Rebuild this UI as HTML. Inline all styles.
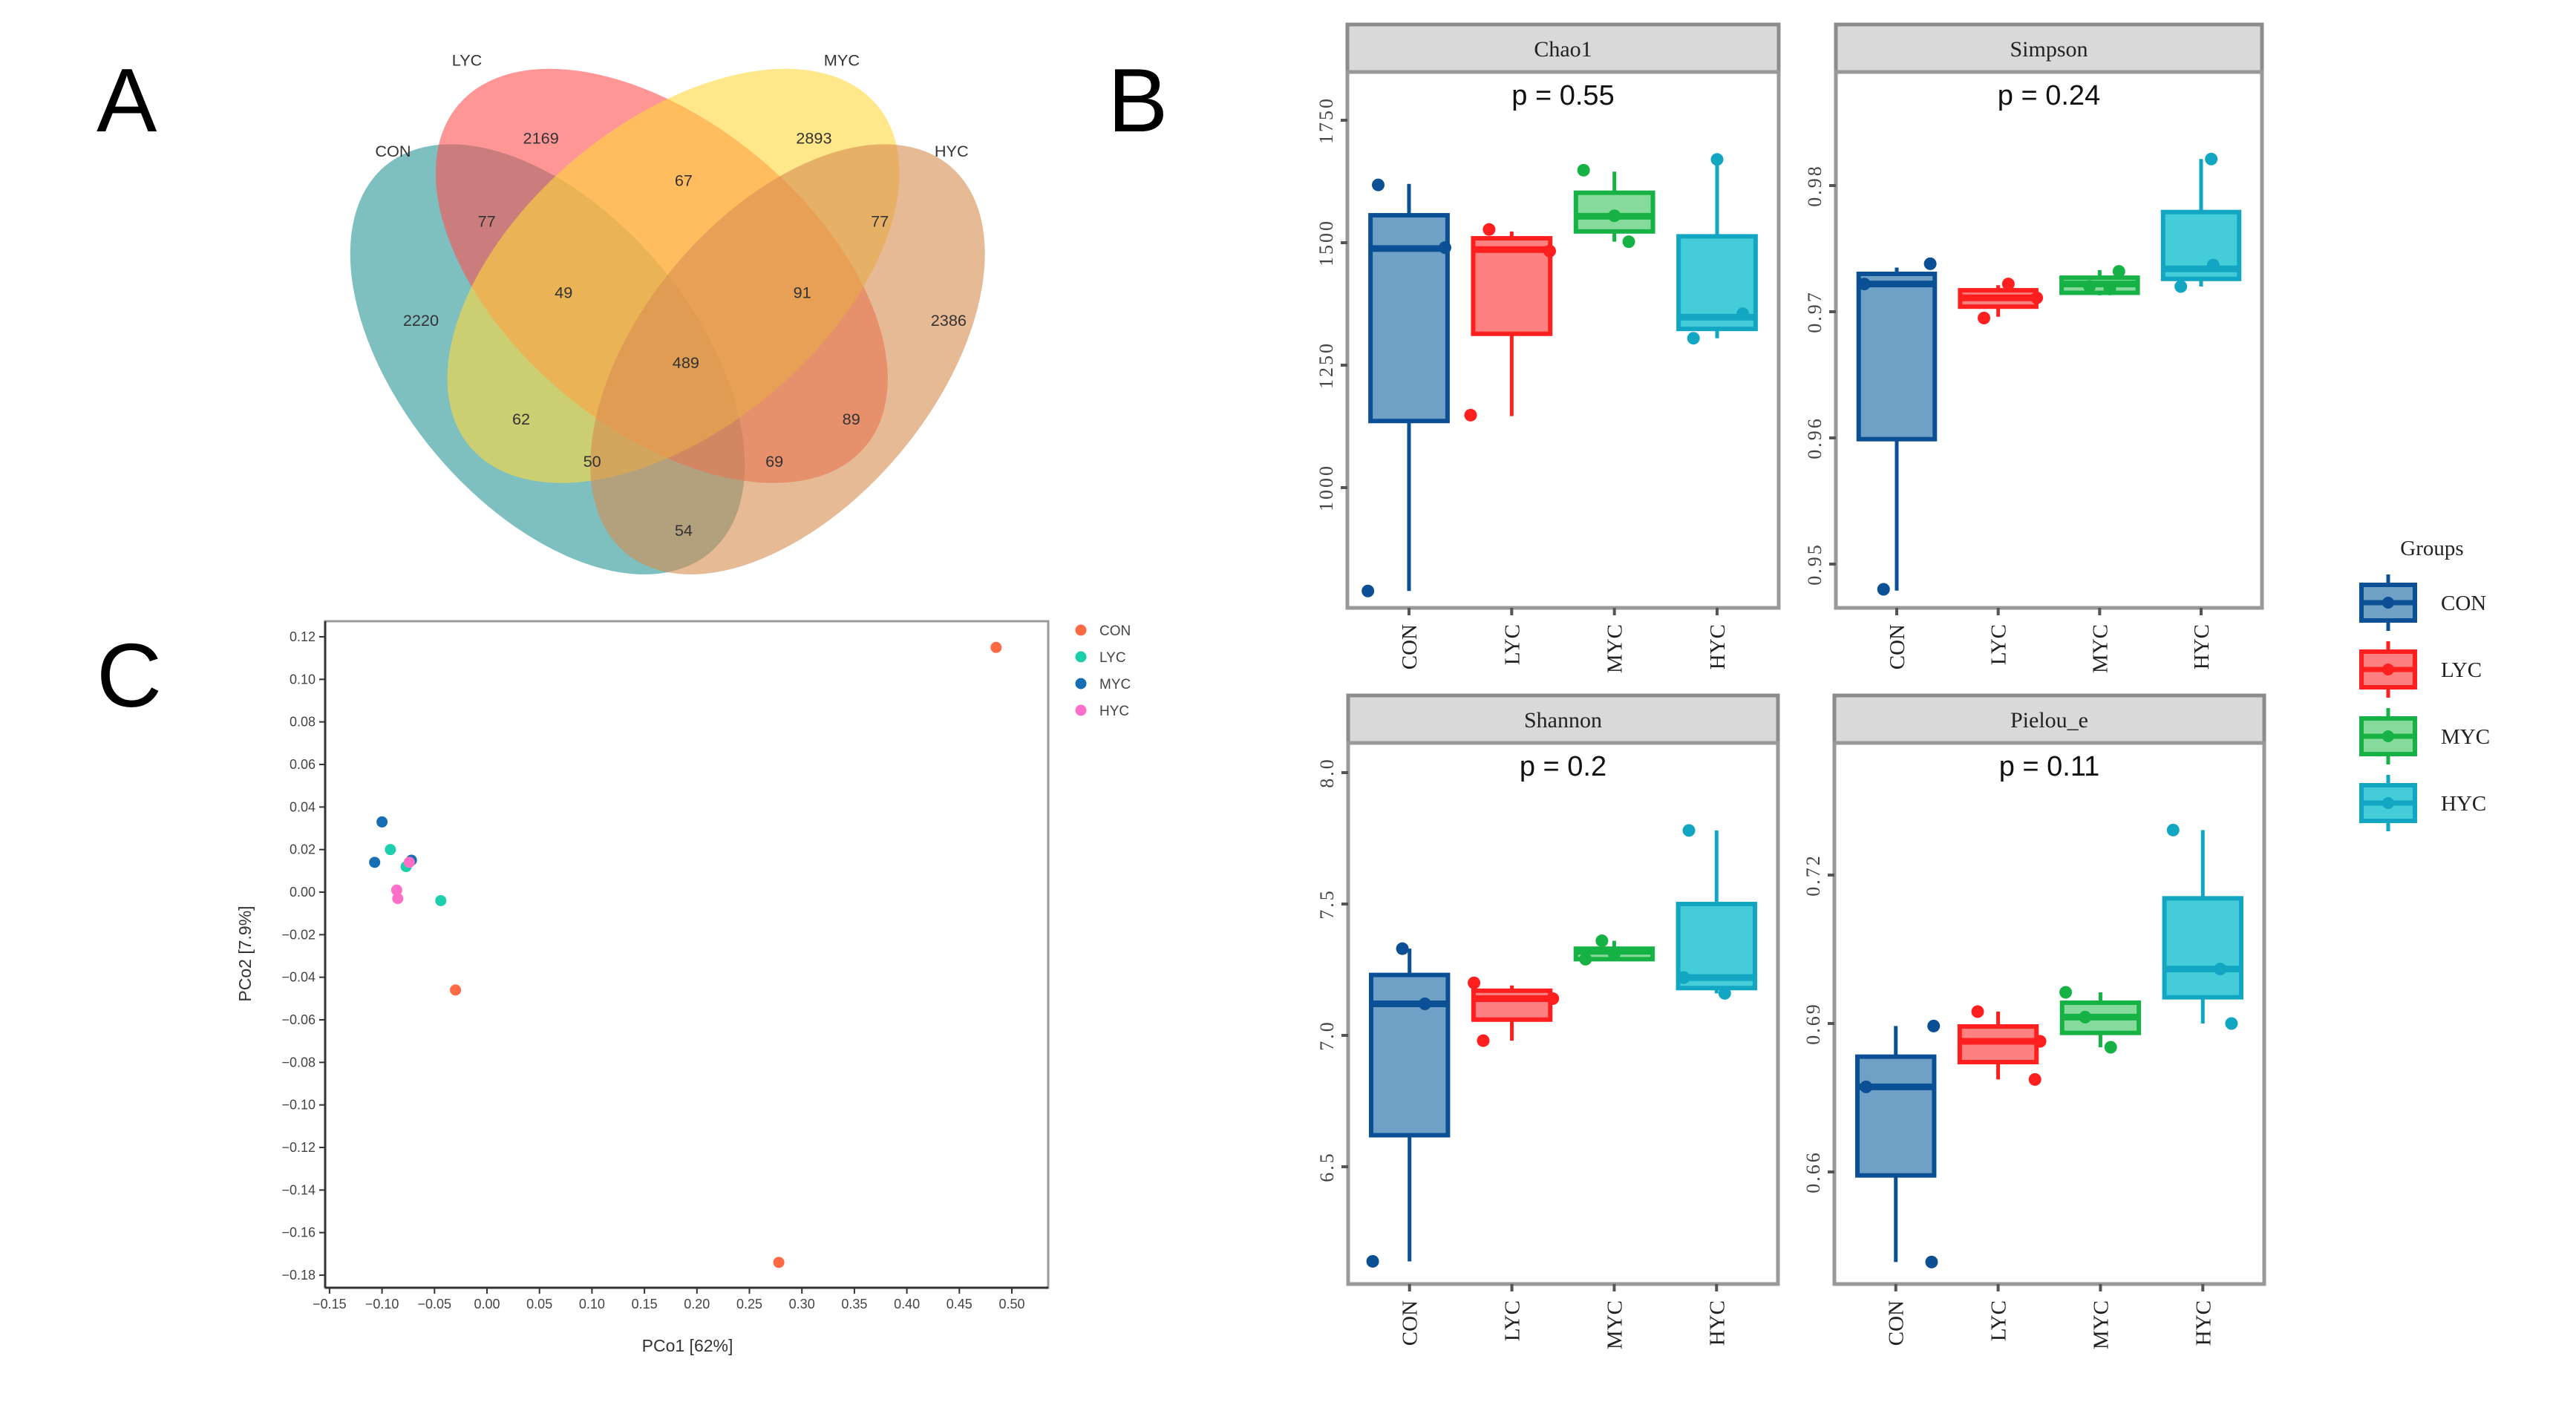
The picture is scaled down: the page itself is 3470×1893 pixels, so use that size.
<!DOCTYPE html>
<html><head><meta charset="utf-8">
<style>
html,body{margin:0;padding:0;background:#fff;}
svg{display:block;}
.sans{font-family:"Liberation Sans",Arial,sans-serif;}
.serif{font-family:"Liberation Serif","DejaVu Serif",serif;}
</style></head>
<body>
<svg id="fig" width="3470" height="1893" viewBox="0 0 3470 1893" xmlns="http://www.w3.org/2000/svg">
<rect width="3470" height="1893" fill="#fff"/>
<text class="sans" x="130" y="177" font-size="122">A</text>
<text class="sans" x="1492" y="177" font-size="122">B</text>
<text class="sans" x="130" y="952" font-size="122">C</text>

<g transform="scale(0.986)">
  <ellipse cx="748" cy="491" rx="345" ry="200" transform="rotate(50 748 491)" fill="rgb(40,150,150)" fill-opacity="0.6"/>
  <ellipse cx="904" cy="377" rx="363" ry="209" transform="rotate(40 904 377)" fill="rgb(255,80,80)" fill-opacity="0.6"/>
  <ellipse cx="920" cy="377" rx="363" ry="209" transform="rotate(-40 920 377)" fill="rgb(255,215,60)" fill-opacity="0.6"/>
  <ellipse cx="1076" cy="491" rx="345" ry="200" transform="rotate(-50 1076 491)" fill="rgb(215,140,80)" fill-opacity="0.6"/>
  <g class="sans" font-size="22" fill="#333" text-anchor="middle">
    <text x="638" y="90">LYC</text>
    <text x="1150" y="90">MYC</text>
    <text x="537" y="214">CON</text>
    <text x="1300" y="214">HYC</text>
    <text x="739" y="196">2169</text>
    <text x="1112" y="196">2893</text>
    <text x="934" y="254">67</text>
    <text x="665" y="310">77</text>
    <text x="1202" y="310">77</text>
    <text x="770" y="407">49</text>
    <text x="1096" y="407">91</text>
    <text x="575" y="445">2220</text>
    <text x="1296" y="445">2386</text>
    <text x="937" y="503">489</text>
    <text x="712" y="580">62</text>
    <text x="1163" y="580">89</text>
    <text x="809" y="638">50</text>
    <text x="1058" y="638">69</text>
    <text x="934" y="732">54</text>
  </g>
</g>
<g id="boxes"></g>
<g id="pcoa"></g>
</svg>
<script>
const NS='http://www.w3.org/2000/svg';
const categories=['CON','LYC','MYC','HYC'];
// box stats: [whiskerLow, q1, median, q3, whiskerHigh]
const chao1Box=[[789,1136,1488,1556,1620],[1146,1314,1486,1509,1523],[1502,1523,1554,1602,1645],[1305,1324,1348,1513,1670]];
const chao1Pts=[[1618,1490,789],[1527,1483,1148],[1648,1555,1502],[1670,1355,1305]];
const chao1Jit=[[-0.3,0.35,-0.4],[-0.22,0.37,-0.4],[-0.3,0,0.14],[0,0.25,-0.23]];
const chao1Ticks=[1000,1250,1500,1750];
const simpsonBox=[[0.9479,0.9599,0.9722,0.9730,0.9735],[0.9696,0.9704,0.9711,0.9717,0.9721],[0.9713,0.9715,0.9722,0.9727,0.9733],[0.9720,0.9726,0.9734,0.9779,0.9821]];
const simpsonPts=[[0.9738,0.9722,0.948],[0.9722,0.9711,0.9695],[0.9732,0.9720,0.9718],[0.9821,0.9737,0.9720]];
const simpsonJit=[[0.33,-0.32,-0.13],[0.1,0.38,-0.14],[0.19,-0.1,0.1],[0.1,0.12,-0.2]];
const simpsonTicks=[0.95,0.96,0.97,0.98];
const shannonBox=[[6.14,6.62,7.12,7.23,7.33],[6.98,7.06,7.14,7.17,7.19],[7.29,7.29,7.32,7.33,7.36],[7.16,7.18,7.22,7.50,7.78]];
const shannonPts=[[7.33,7.12,6.14],[7.20,7.14,6.98],[7.36,7.31,7.29],[7.78,7.22,7.16]];
const shannonJit=[[-0.07,0.15,-0.36],[-0.37,0.4,-0.28],[-0.12,0,-0.28],[-0.27,-0.32,0.08]];
const shannonTicks=[6.5,7.0,7.5,8.0];
const pielouBox=[[0.6418,0.6593,0.6772,0.6833,0.6895],[0.6787,0.6822,0.6864,0.6894,0.6924],[0.6852,0.6881,0.6913,0.6942,0.6963],[0.6900,0.6953,0.7010,0.7153,0.7291]];
const pielouPts=[[0.6895,0.6772,0.6418],[0.6924,0.6864,0.6787],[0.6963,0.6913,0.6852],[0.7291,0.7010,0.6900]];
const pielouJit=[[0.37,-0.29,0.35],[-0.2,0.41,0.36],[-0.34,-0.15,0.1],[-0.29,0.17,0.28]];
const pielouTicks=[0.66,0.69,0.72];
const pValues=['p = 0.55','p = 0.24','p = 0.2','p = 0.11'];
const titles=['Chao1','Simpson','Shannon','Pielou_e'];

const strokeC=['#0b4f94','#ff1f1f','#17b245','#12a6c2'];
const fillC=['#6fa0c6','#ff8080','#86da9c','#44cdd9'];

function el(tag,attrs,parent){const e=document.createElementNS(NS,tag);for(const k in attrs)e.setAttribute(k,attrs[k]);if(parent)parent.appendChild(e);return e;}

const boxes=document.getElementById('boxes');
const panels=[
 {box:chao1Box,pts:chao1Pts,jit:chao1Jit,ticks:chao1Ticks,fmt:v=>String(v),x0:1815,x1:2396,sTop:33,top:97,bot:819,v0:1750,y0:162,ppu:0.66},
 {box:simpsonBox,pts:simpsonPts,jit:simpsonJit,ticks:simpsonTicks,fmt:v=>v.toFixed(2),x0:2473,x1:3047,sTop:33,top:97,bot:819,v0:0.98,y0:250,ppu:17000},
 {box:shannonBox,pts:shannonPts,jit:shannonJit,ticks:shannonTicks,fmt:v=>v.toFixed(1),x0:1816,x1:2395,sTop:937,top:1001,bot:1730,v0:8.0,y0:1041,ppu:354},
 {box:pielouBox,pts:pielouPts,jit:pielouJit,ticks:pielouTicks,fmt:v=>v.toFixed(2),x0:2471,x1:3050,sTop:937,top:1001,bot:1730,v0:0.72,y0:1179,ppu:6667}
];
panels.forEach((p,pi)=>{
  const g=el('g',{},boxes);
  
  
  const unit=(p.x1-p.x0)/4.2;
  const xs=i=>p.x0+(0.6+i)*unit;
  const ys=v=>p.y0+(p.v0-v)*p.ppu;
  const strip=el('rect',{x:p.x0,y:p.sTop,width:p.x1-p.x0,height:p.top-p.sTop,fill:'#d9d9d9',stroke:'#8c8c8c','stroke-width':5},g);
  
  
  const st=el('text',{x:(p.x0+p.x1)/2,y:p.sTop+43,'font-size':30,'text-anchor':'middle',class:'serif',fill:'#222'},g);
  st.textContent=titles[pi];
  
  
  const frame=el('rect',{x:p.x0,y:p.top,width:p.x1-p.x0,height:p.bot-p.top,fill:'#fff',stroke:'#999','stroke-width':5},g);
  
  
  const pt=el('text',{x:(p.x0+p.x1)/2,y:p.top+44,'font-size':38,'text-anchor':'middle',class:'sans',fill:'#111'},g);
  pt.textContent=pValues[pi];
  
  
  p.ticks.forEach(t=>{
    const y=ys(t);
    const tk=el('line',{x1:p.x0-9,x2:p.x0,y1:y,y2:y,stroke:'#555','stroke-width':4},g);
    
    
    const tl=el('text',{x:0,y:0,'font-size':26,'text-anchor':'middle',class:'serif',fill:'#444',transform:`translate(${p.x0-20},${y}) rotate(-90)`,'letter-spacing':'3'},g);
    tl.textContent=p.fmt(t);
    
    
  });
  categories.forEach((c,i)=>{
    const x=xs(i);
    const tk=el('line',{x1:x,x2:x,y1:p.bot,y2:p.bot+10,stroke:'#555','stroke-width':4},g);
    
    
    const tl=el('text',{x:0,y:0,'font-size':29,'text-anchor':'end',class:'serif',fill:'#222',transform:`translate(${x+10},${p.bot+22}) rotate(-90)`},g);
    tl.textContent=c;
    
    
    const b=p.box[i];const w=unit*0.75;
    const wl=el('line',{x1:x,x2:x,y1:ys(b[0]),y2:ys(b[4]),stroke:strokeC[i],'stroke-width':5},g);
    
    
    const r=el('rect',{x:x-w/2,y:ys(b[3]),width:w,height:Math.max(ys(b[1])-ys(b[3]),2),fill:fillC[i],stroke:strokeC[i],'stroke-width':6},g);
    
    
    const md=el('line',{x1:x-w/2,x2:x+w/2,y1:ys(b[2]),y2:ys(b[2]),stroke:strokeC[i],'stroke-width':9},g);
    
    
    p.pts[i].forEach((v,j)=>{
      const d=el('circle',{cx:x+p.jit[i][j]*unit,cy:ys(v),r:8.5,fill:strokeC[i]},g);
      
      
    });
  });
});
// legend
const lg=el('g',{},boxes);


const lt=el('text',{x:3276,y:748,'font-size':29,'text-anchor':'middle',class:'serif',fill:'#222'},lg);
lt.textContent='Groups';


categories.forEach((c,i)=>{
  const cy=812+i*90,cx=3217;
  const k=el('g',{},lg);
  
  
  el('line',{x1:cx,x2:cx,y1:cy-38,y2:cy+38,stroke:strokeC[i],'stroke-width':5},k);
  el('rect',{x:cx-36,y:cy-24,width:72,height:48,fill:fillC[i],stroke:strokeC[i],'stroke-width':6},k);
  el('line',{x1:cx-36,x2:cx+36,y1:cy,y2:cy,stroke:strokeC[i],'stroke-width':7},k);
  el('circle',{cx:cx,cy:cy,r:8,fill:strokeC[i]},k);
  const t=el('text',{x:3288,y:cy+10,'font-size':29,class:'serif',fill:'#222'},k);
  t.textContent=c;
});

// PCoA
const pcoGroups=['CON','LYC','MYC','HYC'];
const pcoColors=['#ff6a45','#1ecfad','#176fb3','#ff6fc8'];
const pcoX=[[0.485,-0.03,0.278],[-0.092,-0.077,-0.044],[-0.100,-0.107,-0.072],[-0.086,-0.085,-0.074]];
const pcoY=[[0.115,-0.046,-0.174],[0.020,0.012,-0.004],[0.033,0.014,0.015],[0.001,-0.003,0.014]];
const xTicks=[-0.15,-0.10,-0.05,0.00,0.05,0.10,0.15,0.20,0.25,0.30,0.35,0.40,0.45,0.50];
const yTicks=[0.12,0.10,0.08,0.06,0.04,0.02,0.00,-0.02,-0.04,-0.06,-0.08,-0.10,-0.12,-0.14,-0.16,-0.18];
const pc=document.getElementById('pcoa');


const L=438,R=1412,T=837,B=1735;
const sx=v=>656+v*1414;
const sy=v=>1202-v*2867;
const fr=el('rect',{x:L,y:T,width:R-L,height:B-T,fill:'#fff',stroke:'#9a9a9a','stroke-width':3},pc);


const ax1=el('line',{x1:L,x2:L,y1:T,y2:B,stroke:'#333','stroke-width':3},pc);


const ax2=el('line',{x1:L,x2:R,y1:B,y2:B,stroke:'#333','stroke-width':3},pc);


yTicks.forEach(v=>{
  const y=sy(v);
  el('line',{x1:L-8,x2:L,y1:y,y2:y,stroke:'#333','stroke-width':2},pc);
  const t=el('text',{x:L-13,y:y+6,'font-size':18,'text-anchor':'end',class:'sans',fill:'#444'},pc);
  t.textContent=v.toFixed(2).replace('-','\u2212');
  
  
});
xTicks.forEach(v=>{
  const x=sx(v);
  el('line',{x1:x,x2:x,y1:B,y2:B+8,stroke:'#333','stroke-width':2},pc);
  const t=el('text',{x:x,y:B+28,'font-size':18,'text-anchor':'middle',class:'sans',fill:'#444'},pc);
  t.textContent=v.toFixed(2).replace('-','\u2212');
  
  
});
const xt=el('text',{x:926,y:1821,'font-size':23,'text-anchor':'middle',class:'sans',fill:'#333'},pc);
xt.textContent='PCo1 [62%]';


const yt=el('text',{x:0,y:0,'font-size':23,'text-anchor':'middle',class:'sans',fill:'#333',transform:'translate(338,1285) rotate(-90)'},pc);
yt.textContent='PCo2 [7.9%]';


pcoGroups.forEach((g,i)=>{
  pcoX[i].forEach((v,j)=>{
    const c=el('circle',{cx:sx(v),cy:sy(pcoY[i][j]),r:7.5,fill:pcoColors[i]},pc);
    
    
  });
  const ly=849+i*36;
  const le=el('g',{},pc);
  
  
  el('circle',{cx:1456,cy:ly,r:7.5,fill:pcoColors[i]},le);
  const t=el('text',{x:1481,y:ly+7,'font-size':19,class:'sans',fill:'#444'},le);
  t.textContent=g;
});
</script>
</body></html>
